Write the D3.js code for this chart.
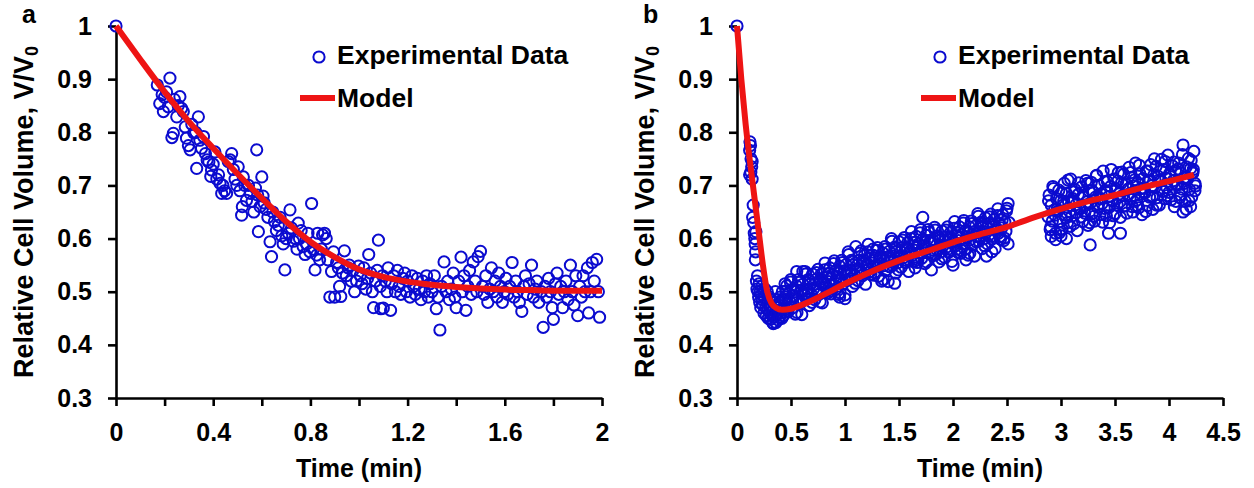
<!DOCTYPE html>
<html>
<head>
<meta charset="utf-8">
<script src="https://cdn.jsdelivr.net/npm/d3@7"></script>
<style>
  body { margin: 0; background: #fff; }
  svg { display: block; }
  text { font-family: "Liberation Sans", Arial, sans-serif; font-weight: bold; fill: #000; }
</style>
</head>
<body>
<svg id="fig" width="1254" height="488"></svg>
<script>
const yTicks = [0.3, 0.4, 0.5, 0.6, 0.7, 0.8, 0.9, 1]
const xTicksA = [0, 0.2, 0.4, 0.6, 0.8, 1, 1.2, 1.4, 1.6, 1.8, 2]
const xTicksB = [0, 0.5, 1, 1.5, 2, 2.5, 3, 3.5, 4, 4.5]

// panel a: model curve
const modelTimeA = [0, 0.1, 0.2, 0.3, 0.4, 0.5, 0.6, 0.7, 0.8, 0.9, 1.0, 1.1, 1.2, 1.3, 1.4, 1.5, 1.6, 1.7, 1.8, 1.9, 2.0]
const modelVolA = [1, 0.937, 0.876, 0.82, 0.77, 0.722, 0.676, 0.632, 0.594, 0.565, 0.542, 0.528, 0.519, 0.513, 0.509, 0.506, 0.504, 0.503, 0.502, 0.502, 0.502]

// panel a: experimental data [time, volume]
const expA = [
  [0, 1.0],
  [0.17, 0.889], [0.18, 0.854], [0.19, 0.871], [0.195, 0.839], [0.2, 0.866], [0.208, 0.876], [0.215, 0.848], [0.222, 0.902],
  [0.23, 0.79], [0.236, 0.798], [0.24, 0.862], [0.25, 0.829], [0.256, 0.85], [0.263, 0.867], [0.27, 0.845], [0.277, 0.839],
  [0.285, 0.81], [0.29, 0.789], [0.298, 0.775], [0.305, 0.767], [0.312, 0.815], [0.32, 0.799], [0.328, 0.8], [0.332, 0.732],
  [0.339, 0.829], [0.345, 0.785], [0.352, 0.77], [0.36, 0.792], [0.368, 0.76], [0.375, 0.748], [0.382, 0.744], [0.39, 0.717],
  [0.393, 0.729], [0.4, 0.74], [0.407, 0.763], [0.415, 0.712], [0.422, 0.72], [0.428, 0.704], [0.435, 0.685], [0.44, 0.7],
  [0.447, 0.69], [0.455, 0.685], [0.462, 0.745], [0.47, 0.748], [0.476, 0.76], [0.483, 0.73], [0.49, 0.712], [0.497, 0.7],
  [0.503, 0.735], [0.51, 0.69], [0.517, 0.644], [0.52, 0.66], [0.524, 0.716], [0.53, 0.7], [0.537, 0.672], [0.545, 0.7],
  [0.552, 0.685], [0.56, 0.67], [0.567, 0.65], [0.574, 0.695], [0.579, 0.767], [0.583, 0.682], [0.586, 0.613], [0.593, 0.66],
  [0.6, 0.716], [0.605, 0.68], [0.61, 0.667], [0.618, 0.655], [0.625, 0.64], [0.634, 0.594], [0.64, 0.566], [0.645, 0.65],
  [0.652, 0.632], [0.66, 0.615], [0.668, 0.625], [0.675, 0.64], [0.682, 0.605], [0.688, 0.59], [0.695, 0.541], [0.7, 0.6],
  [0.71, 0.61], [0.716, 0.654], [0.722, 0.62], [0.73, 0.595], [0.738, 0.6], [0.745, 0.58], [0.75, 0.629], [0.755, 0.6],
  [0.762, 0.615], [0.77, 0.585], [0.778, 0.57], [0.785, 0.59], [0.79, 0.61], [0.798, 0.575], [0.805, 0.666], [0.812, 0.58],
  [0.819, 0.541], [0.826, 0.569], [0.83, 0.61], [0.838, 0.56], [0.845, 0.58], [0.85, 0.607], [0.858, 0.61], [0.865, 0.6],
  [0.872, 0.56], [0.88, 0.49], [0.887, 0.538], [0.895, 0.575], [0.9, 0.49], [0.908, 0.555], [0.915, 0.545], [0.92, 0.51],
  [0.925, 0.491], [0.932, 0.535], [0.94, 0.577], [0.948, 0.53], [0.955, 0.545], [0.96, 0.55], [0.968, 0.52], [0.975, 0.54],
  [0.982, 0.5], [0.99, 0.52], [0.998, 0.548], [1.005, 0.53], [1.012, 0.515], [1.02, 0.545], [1.028, 0.505], [1.035, 0.525],
  [1.04, 0.57], [1.048, 0.535], [1.055, 0.5], [1.06, 0.47], [1.068, 0.52], [1.075, 0.54], [1.08, 0.597], [1.088, 0.51],
  [1.09, 0.468], [1.097, 0.53], [1.1, 0.469], [1.108, 0.52], [1.115, 0.5], [1.12, 0.545], [1.13, 0.465], [1.135, 0.515],
  [1.142, 0.53], [1.15, 0.5], [1.158, 0.54], [1.165, 0.51], [1.172, 0.495], [1.18, 0.525], [1.188, 0.535], [1.195, 0.5],
  [1.2, 0.52], [1.21, 0.49], [1.218, 0.53], [1.225, 0.51], [1.232, 0.495], [1.24, 0.525], [1.248, 0.505], [1.255, 0.485],
  [1.262, 0.52], [1.27, 0.5], [1.278, 0.53], [1.285, 0.49], [1.292, 0.515], [1.3, 0.5], [1.31, 0.53], [1.318, 0.468],
  [1.325, 0.49], [1.333, 0.428], [1.34, 0.51], [1.35, 0.556], [1.358, 0.5], [1.365, 0.52], [1.372, 0.485], [1.38, 0.505],
  [1.388, 0.535], [1.395, 0.49], [1.4, 0.47], [1.41, 0.52], [1.42, 0.565], [1.425, 0.5], [1.432, 0.53], [1.44, 0.465],
  [1.448, 0.51], [1.455, 0.54], [1.462, 0.495], [1.47, 0.556], [1.478, 0.52], [1.485, 0.5], [1.49, 0.566], [1.5, 0.576],
  [1.508, 0.51], [1.515, 0.495], [1.522, 0.53], [1.53, 0.48], [1.538, 0.505], [1.545, 0.545], [1.552, 0.5], [1.56, 0.52],
  [1.568, 0.49], [1.575, 0.535], [1.582, 0.51], [1.59, 0.48], [1.598, 0.5], [1.605, 0.525], [1.612, 0.495], [1.62, 0.51],
  [1.63, 0.555], [1.638, 0.49], [1.645, 0.52], [1.652, 0.5], [1.66, 0.48], [1.67, 0.463], [1.678, 0.51], [1.685, 0.53],
  [1.692, 0.495], [1.7, 0.515], [1.71, 0.55], [1.718, 0.49], [1.725, 0.505], [1.732, 0.52], [1.74, 0.48], [1.75, 0.5],
  [1.758, 0.433], [1.765, 0.51], [1.772, 0.49], [1.78, 0.525], [1.788, 0.5], [1.795, 0.47], [1.8, 0.448], [1.808, 0.515],
  [1.815, 0.535], [1.822, 0.495], [1.83, 0.51], [1.838, 0.47], [1.845, 0.5], [1.852, 0.52], [1.86, 0.485], [1.87, 0.55],
  [1.878, 0.5], [1.885, 0.475], [1.892, 0.53], [1.9, 0.455], [1.908, 0.51], [1.915, 0.49], [1.922, 0.53], [1.93, 0.5],
  [1.94, 0.545], [1.945, 0.46], [1.952, 0.5], [1.96, 0.555], [1.968, 0.52], [1.978, 0.561], [1.985, 0.5], [1.99, 0.452]
]

// panel b: model curve
const modelTimeB = [0, 0.04, 0.08, 0.12, 0.16, 0.2, 0.24, 0.28, 0.32, 0.36, 0.42, 0.5, 0.6, 0.8, 1.0, 1.2, 1.4, 1.6, 1.8, 2.0, 2.25, 2.5, 2.75, 3.0, 3.25, 3.5, 3.75, 4.0, 4.23]
const modelVolB = [1, 0.9, 0.815, 0.745, 0.68, 0.615, 0.55, 0.5, 0.478, 0.47, 0.466, 0.468, 0.475, 0.494, 0.515, 0.534, 0.551, 0.566, 0.579, 0.593, 0.608, 0.622, 0.64, 0.656, 0.67, 0.682, 0.696, 0.708, 0.72]

// panel b: experimental data [time, volume]
const expB = [
  [0, 1.0],
  [0.12, 0.782], [0.117, 0.766], [0.125, 0.775], [0.13, 0.75], [0.136, 0.735], [0.117, 0.72], [0.14, 0.712], [0.128, 0.725],
  [0.14, 0.745], [0.15, 0.663], [0.145, 0.64], [0.155, 0.63], [0.16, 0.61], [0.165, 0.6], [0.168, 0.59], [0.175, 0.613],
  [0.17, 0.56], [0.172, 0.575], [0.18, 0.52], [0.185, 0.505], [0.19, 0.53], [0.195, 0.5], [0.2, 0.49], [0.205, 0.515],
  [0.21, 0.48], [0.215, 0.5], [0.22, 0.47], [0.225, 0.495], [0.23, 0.51], [0.235, 0.485], [0.24, 0.475], [0.245, 0.5],
  [0.25, 0.46], [0.255, 0.49], [0.26, 0.505], [0.265, 0.47], [0.27, 0.455], [0.275, 0.48], [0.28, 0.5], [0.285, 0.465],
  [0.29, 0.45], [0.295, 0.475], [0.3, 0.49], [0.305, 0.46], [0.31, 0.448], [0.315, 0.47], [0.32, 0.485], [0.325, 0.455],
  [0.33, 0.442], [0.336, 0.44], [0.34, 0.465], [0.345, 0.48], [0.35, 0.452], [0.355, 0.5], [0.36, 0.442], [0.365, 0.47],
  [0.37, 0.458], [0.375, 0.485], [0.38, 0.447], [0.385, 0.465], [0.39, 0.475], [0.395, 0.452], [0.4, 0.49], [0.405, 0.46],
  [0.41, 0.478], [0.415, 0.45], [0.42, 0.5], [0.425, 0.468], [0.43, 0.455], [0.435, 0.485], [0.44, 0.47], [0.445, 0.515],
  [0.45, 0.486], [0.46, 0.511], [0.47, 0.462], [0.48, 0.497], [0.49, 0.48], [0.5, 0.523], [0.51, 0.469], [0.52, 0.504],
  [0.53, 0.492], [0.54, 0.458], [0.55, 0.511], [0.56, 0.487], [0.57, 0.523], [0.58, 0.478], [0.59, 0.502], [0.6, 0.457],
  [0.61, 0.514], [0.62, 0.495], [0.63, 0.538], [0.64, 0.487], [0.65, 0.505], [0.66, 0.523], [0.67, 0.474], [0.68, 0.515],
  [0.69, 0.494], [0.7, 0.533], [0.71, 0.506], [0.72, 0.485], [0.73, 0.523], [0.74, 0.504], [0.75, 0.542], [0.76, 0.495],
  [0.77, 0.519], [0.78, 0.533], [0.79, 0.479], [0.8, 0.517], [0.81, 0.541], [0.82, 0.509], [0.83, 0.527], [0.84, 0.498],
  [0.85, 0.519], [0.86, 0.545], [0.87, 0.496], [0.88, 0.532], [0.89, 0.514], [0.9, 0.558], [0.91, 0.504], [0.92, 0.54],
  [0.93, 0.528], [0.94, 0.495], [0.95, 0.548], [0.96, 0.524], [0.97, 0.559], [0.98, 0.515], [0.99, 0.539], [1.0, 0.494],
  [1.01, 0.551], [1.02, 0.532], [1.03, 0.575], [1.04, 0.524], [1.05, 0.541], [1.06, 0.559], [1.07, 0.51], [1.08, 0.551],
  [1.09, 0.53], [1.1, 0.585], [1.11, 0.542], [1.12, 0.521], [1.13, 0.559], [1.14, 0.54], [1.15, 0.577], [1.16, 0.53],
  [1.17, 0.554], [1.18, 0.568], [1.19, 0.514], [1.2, 0.551], [1.21, 0.575], [1.22, 0.543], [1.23, 0.562], [1.24, 0.533],
  [1.25, 0.554], [1.26, 0.58], [1.27, 0.531], [1.28, 0.567], [1.29, 0.55], [1.3, 0.583], [1.31, 0.529], [1.32, 0.565],
  [1.33, 0.553], [1.34, 0.52], [1.35, 0.573], [1.36, 0.549], [1.37, 0.585], [1.38, 0.541], [1.39, 0.565], [1.4, 0.519],
  [1.41, 0.576], [1.42, 0.557], [1.43, 0.6], [1.44, 0.549], [1.45, 0.567], [1.46, 0.584], [1.47, 0.535], [1.48, 0.576],
  [1.49, 0.555], [1.5, 0.594], [1.51, 0.567], [1.52, 0.546], [1.53, 0.583], [1.54, 0.564], [1.55, 0.602], [1.56, 0.555],
  [1.57, 0.579], [1.58, 0.592], [1.59, 0.538], [1.6, 0.576], [1.61, 0.6], [1.62, 0.568], [1.63, 0.586], [1.64, 0.557],
  [1.65, 0.578], [1.66, 0.604], [1.67, 0.555], [1.68, 0.59], [1.69, 0.573], [1.7, 0.617], [1.71, 0.563], [1.72, 0.598],
  [1.73, 0.586], [1.74, 0.553], [1.75, 0.606], [1.76, 0.581], [1.77, 0.617], [1.78, 0.573], [1.79, 0.596], [1.8, 0.541],
  [1.81, 0.598], [1.82, 0.578], [1.83, 0.621], [1.84, 0.57], [1.85, 0.588], [1.86, 0.605], [1.87, 0.556], [1.88, 0.597],
  [1.89, 0.575], [1.9, 0.614], [1.91, 0.587], [1.92, 0.565], [1.93, 0.603], [1.94, 0.584], [1.95, 0.622], [1.96, 0.574],
  [1.97, 0.598], [1.98, 0.612], [1.99, 0.557], [2.0, 0.595], [2.01, 0.619], [2.02, 0.586], [2.03, 0.605], [2.04, 0.575],
  [2.05, 0.596], [2.06, 0.622], [2.07, 0.572], [2.08, 0.608], [2.09, 0.59], [2.1, 0.634], [2.11, 0.58], [2.12, 0.615],
  [2.13, 0.603], [2.14, 0.569], [2.15, 0.622], [2.16, 0.598], [2.17, 0.633], [2.18, 0.589], [2.19, 0.612], [2.2, 0.567],
  [2.21, 0.624], [2.22, 0.604], [2.23, 0.647], [2.24, 0.595], [2.25, 0.613], [2.26, 0.631], [2.27, 0.581], [2.28, 0.622],
  [2.29, 0.6], [2.3, 0.639], [2.31, 0.612], [2.32, 0.59], [2.33, 0.628], [2.34, 0.608], [2.35, 0.646], [2.36, 0.599],
  [2.37, 0.622], [2.38, 0.636], [2.39, 0.581], [2.4, 0.619], [2.41, 0.643], [2.42, 0.61], [2.43, 0.629], [2.44, 0.599],
  [2.45, 0.62], [2.46, 0.645], [2.47, 0.596], [2.48, 0.631], [2.49, 0.614], [2.5, 0.657],
  [1.46, 0.516], [2.31, 0.567], [2.0, 0.55], [0.553, 0.538], [0.61, 0.538], [0.77, 0.481], [1.0, 0.487], [2.51, 0.59],
  [2.51, 0.666], [2.52, 0.63], [1.72, 0.64], [0.95, 0.49], [1.65, 0.545], [2.12, 0.56], [2.36, 0.575],
  [0.455, 0.501], [0.475, 0.467], [0.495, 0.518], [0.515, 0.487], [0.535, 0.5], [0.555, 0.461], [0.575, 0.518], [0.595, 0.499],
  [0.615, 0.484], [0.635, 0.533], [0.655, 0.495], [0.675, 0.52], [0.695, 0.48], [0.715, 0.514], [0.735, 0.536], [0.755, 0.5],
  [0.775, 0.524], [0.795, 0.514], [0.815, 0.554], [0.835, 0.502], [0.855, 0.534], [0.875, 0.501], [0.895, 0.553], [0.915, 0.522],
  [0.935, 0.536], [0.955, 0.498], [0.975, 0.555], [0.995, 0.536], [1.015, 0.521], [1.035, 0.57], [1.055, 0.532], [1.075, 0.557],
  [1.095, 0.516], [1.115, 0.55], [1.135, 0.572], [1.155, 0.536], [1.175, 0.56], [1.195, 0.549], [1.215, 0.589], [1.235, 0.538],
  [1.255, 0.569], [1.275, 0.536], [1.295, 0.578], [1.315, 0.548], [1.335, 0.562], [1.355, 0.523], [1.375, 0.58], [1.395, 0.562],
  [1.415, 0.547], [1.435, 0.595], [1.455, 0.557], [1.475, 0.582], [1.495, 0.541], [1.515, 0.575], [1.535, 0.597], [1.555, 0.56],
  [1.575, 0.584], [1.595, 0.573], [1.615, 0.613], [1.635, 0.561], [1.655, 0.593], [1.675, 0.56], [1.695, 0.611], [1.715, 0.581],
  [1.735, 0.594], [1.755, 0.556], [1.775, 0.612], [1.795, 0.594], [1.815, 0.568], [1.835, 0.616], [1.855, 0.578], [1.875, 0.602],
  [1.895, 0.562], [1.915, 0.595], [1.935, 0.616], [1.955, 0.58], [1.975, 0.603], [1.995, 0.593], [2.015, 0.632], [2.035, 0.58],
  [2.055, 0.611], [2.075, 0.578], [2.095, 0.629], [2.115, 0.598], [2.135, 0.611], [2.155, 0.572], [2.175, 0.628], [2.195, 0.609],
  [2.215, 0.594], [2.235, 0.642], [2.255, 0.603], [2.275, 0.627], [2.295, 0.586], [2.315, 0.62], [2.335, 0.641], [2.355, 0.604],
  [2.375, 0.627], [2.395, 0.616], [2.415, 0.656], [2.435, 0.604], [2.455, 0.635], [2.475, 0.601], [2.495, 0.652],
  [2.88, 0.641], [2.89, 0.682], [2.9, 0.617], [2.91, 0.663], [2.92, 0.633], [2.93, 0.694], [2.94, 0.654], [2.95, 0.61],
  [2.96, 0.675], [2.97, 0.651], [2.98, 0.691], [2.99, 0.632], [3.0, 0.672], [3.01, 0.618], [3.02, 0.663], [3.03, 0.704],
  [3.04, 0.644], [3.05, 0.685], [3.06, 0.63], [3.07, 0.669], [3.08, 0.651], [3.09, 0.712], [3.1, 0.642], [3.11, 0.675],
  [3.12, 0.628], [3.13, 0.692], [3.14, 0.664], [3.15, 0.615], [3.16, 0.683], [3.17, 0.658], [3.18, 0.656], [3.19, 0.697],
  [3.2, 0.632], [3.21, 0.678], [3.22, 0.648], [3.23, 0.709], [3.24, 0.669], [3.25, 0.625], [3.26, 0.69], [3.27, 0.666],
  [3.28, 0.706], [3.29, 0.647], [3.3, 0.687], [3.31, 0.633], [3.32, 0.678], [3.33, 0.719], [3.34, 0.659], [3.35, 0.7],
  [3.36, 0.645], [3.37, 0.684], [3.38, 0.666], [3.39, 0.727], [3.4, 0.657], [3.41, 0.69], [3.42, 0.643], [3.43, 0.707],
  [3.44, 0.679], [3.45, 0.63], [3.46, 0.698], [3.47, 0.673], [3.48, 0.671], [3.49, 0.712], [3.5, 0.647], [3.51, 0.693],
  [3.52, 0.663], [3.53, 0.724], [3.54, 0.684], [3.55, 0.64], [3.56, 0.705], [3.57, 0.681], [3.58, 0.721], [3.59, 0.662],
  [3.6, 0.702], [3.61, 0.648], [3.62, 0.693], [3.63, 0.734], [3.64, 0.674], [3.65, 0.715], [3.66, 0.66], [3.67, 0.699],
  [3.68, 0.681], [3.69, 0.742], [3.7, 0.672], [3.71, 0.705], [3.72, 0.658], [3.73, 0.722], [3.74, 0.694], [3.75, 0.645],
  [3.76, 0.713], [3.77, 0.688], [3.78, 0.686], [3.79, 0.727], [3.8, 0.662], [3.81, 0.708], [3.82, 0.678], [3.83, 0.739],
  [3.84, 0.699], [3.85, 0.655], [3.86, 0.72], [3.87, 0.696], [3.88, 0.736], [3.89, 0.677], [3.9, 0.717], [3.91, 0.663],
  [3.92, 0.708], [3.93, 0.749], [3.94, 0.689], [3.95, 0.73], [3.96, 0.675], [3.97, 0.714], [3.98, 0.696], [3.99, 0.757],
  [4.0, 0.687], [4.01, 0.72], [4.02, 0.673], [4.03, 0.737], [4.04, 0.709], [4.05, 0.66], [4.06, 0.728], [4.07, 0.703],
  [4.08, 0.701], [4.09, 0.742], [4.1, 0.677], [4.11, 0.723], [4.12, 0.693], [4.13, 0.776], [4.14, 0.714], [4.15, 0.67],
  [4.16, 0.735], [4.17, 0.711], [4.18, 0.751], [4.19, 0.692], [4.2, 0.732], [4.21, 0.678], [4.22, 0.723], [4.23, 0.764],
  [4.24, 0.704],
  [4.13, 0.65], [4.2, 0.66], [4.16, 0.655], [3.27, 0.588], [3.44, 0.61], [3.55, 0.61], [2.91, 0.604], [3.05, 0.6],
  [2.95, 0.598], [3.0, 0.605], [4.22, 0.725], [4.24, 0.69],
  [2.885, 0.671], [2.905, 0.622], [2.925, 0.698], [2.945, 0.644], [2.965, 0.655], [2.985, 0.611], [3.005, 0.687], [3.025, 0.67],
  [3.045, 0.639], [3.065, 0.71], [3.085, 0.623], [3.105, 0.67], [3.125, 0.688], [3.145, 0.649], [3.165, 0.705], [3.185, 0.641],
  [3.205, 0.682], [3.225, 0.663], [3.245, 0.704], [3.265, 0.63], [3.285, 0.691], [3.305, 0.642], [3.325, 0.718], [3.345, 0.664],
  [3.365, 0.675], [3.385, 0.631], [3.405, 0.707], [3.425, 0.69], [3.445, 0.659], [3.465, 0.73], [3.485, 0.643], [3.505, 0.69],
  [3.525, 0.708], [3.545, 0.669], [3.565, 0.725], [3.585, 0.661], [3.605, 0.702], [3.625, 0.683], [3.645, 0.724], [3.665, 0.65],
  [3.685, 0.711], [3.705, 0.662], [3.725, 0.738], [3.745, 0.684], [3.765, 0.695], [3.785, 0.651], [3.805, 0.727], [3.825, 0.71],
  [3.845, 0.679], [3.865, 0.75], [3.885, 0.663], [3.905, 0.71], [3.925, 0.728], [3.945, 0.689], [3.965, 0.745], [3.985, 0.681],
  [4.005, 0.722], [4.025, 0.703], [4.045, 0.744], [4.065, 0.67], [4.085, 0.731], [4.105, 0.682], [4.125, 0.758], [4.145, 0.704],
  [4.165, 0.715], [4.185, 0.671], [4.205, 0.747], [4.225, 0.73], [4.245, 0.699]
]

const blue = '#0b0bcf'
const red = '#ee1414'
const plotTop = 26, plotBottom = 398

function drawPanel(svg, p) {
  const x = d3.scaleLinear().domain(p.xDomain).range([p.left, p.left + 486])
  const y = d3.scaleLinear().domain([0.3, 1]).range([plotBottom, plotTop])
  const fmt = d3.format('~g')

  const xAxis = svg.append('g')
    .attr('transform', `translate(0, ${plotBottom})`)
    .call(d3.axisBottom(x).tickValues(p.xTicks).tickSize(8).tickSizeOuter(0).tickPadding(17)
      .tickFormat((d, i) => (i % p.labelEvery === 0 ? fmt(d) : '')))
  const yAxis = svg.append('g')
    .attr('transform', `translate(${p.left}, 0)`)
    .call(d3.axisLeft(y).tickValues(yTicks).tickSize(8).tickSizeOuter(0).tickPadding(16).tickFormat(fmt))

  ;[xAxis, yAxis].forEach(ax => {
    ax.select('.domain').attr('stroke', '#000').attr('stroke-width', 2.6)
    ax.selectAll('.tick line').attr('stroke', '#000').attr('stroke-width', 2.6)
    ax.selectAll('.tick text').attr('font-size', 25).attr('font-family', null).attr('fill', '#000')
  })

  svg.append('g')
    .selectAll('circle')
    .data(p.exp)
    .enter()
      .append('circle')
        .attr('cx', d => x(d[0]))
        .attr('cy', d => y(d[1]))
        .attr('r', 5.6)
        .attr('fill', 'none')
        .attr('stroke', blue)
        .attr('stroke-width', 2)

  const line = d3.line()
    .x(d => x(d[0]))
    .y(d => y(d[1]))
    .curve(d3.curveMonotoneX)

  svg.append('path')
    .datum(d3.zip(p.modelTime, p.modelVol))
    .attr('d', line)
    .attr('fill', 'none')
    .attr('stroke', red)
    .attr('stroke-width', 6)
    .attr('stroke-linejoin', 'round')

  // axis titles
  svg.append('text')
    .attr('x', p.left + 243)
    .attr('y', 477)
    .attr('text-anchor', 'middle')
    .attr('font-size', 25)
    .text('Time (min)')

  const yTitle = svg.append('text')
    .attr('transform', `translate(${p.left - 83}, ${(plotTop + plotBottom) / 2}) rotate(-90)`)
    .attr('text-anchor', 'middle')
    .attr('font-size', 27)
  yTitle.append('tspan').text('Relative Cell Volume, V/V')
  yTitle.append('tspan').attr('font-size', 18).attr('dy', 5).text('0')

  // panel letter
  svg.append('text')
    .attr('x', p.left - 94)
    .attr('y', 23)
    .attr('font-size', 25)
    .text(p.letter)

  // legend
  const lg = svg.append('g')
  lg.append('circle')
    .attr('cx', p.left + 203).attr('cy', 57).attr('r', 5.6)
    .attr('fill', 'none').attr('stroke', blue).attr('stroke-width', 2)
  lg.append('text').attr('x', p.left + 221).attr('y', 64).attr('font-size', 26.5).text('Experimental Data')
  lg.append('line')
    .attr('x1', p.left + 184).attr('x2', p.left + 219).attr('y1', 98).attr('y2', 98)
    .attr('stroke', red).attr('stroke-width', 6)
  lg.append('text').attr('x', p.left + 221).attr('y', 107).attr('font-size', 26.5).text('Model')
}

const svg = d3.select('svg#fig')

drawPanel(svg, {
  letter: 'a', left: 116, xDomain: [0, 2], xTicks: xTicksA, labelEvery: 2,
  exp: expA, modelTime: modelTimeA, modelVol: modelVolA
})

drawPanel(svg, {
  letter: 'b', left: 737, xDomain: [0, 4.5], xTicks: xTicksB, labelEvery: 1,
  exp: expB, modelTime: modelTimeB, modelVol: modelVolB
})
</script>
</body>
</html>
